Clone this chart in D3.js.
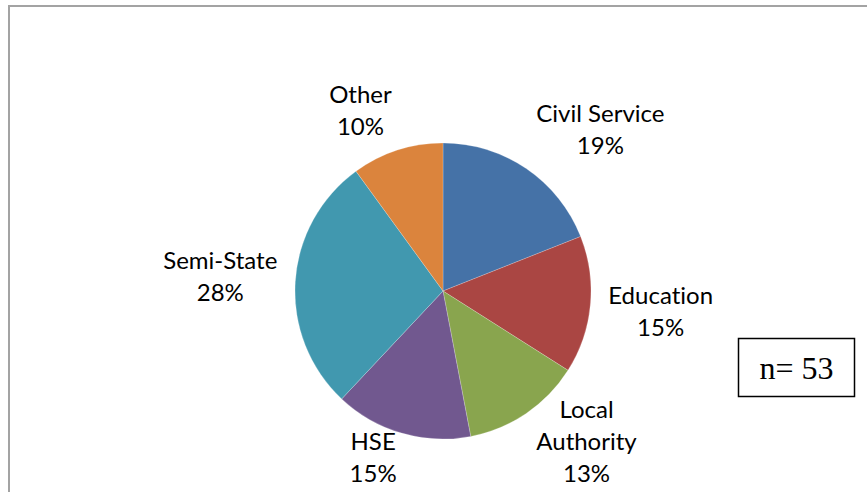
<!DOCTYPE html>
<html>
<head>
<meta charset="utf-8">
<script src="https://cdn.jsdelivr.net/npm/d3@7"></script>
<style>
  html, body { margin: 0; padding: 0; background: #fff; }
  svg { display: block; }
  text { font-variant-ligatures: none; }
</style>
</head>
<body>
<svg id="chart" width="867" height="492"></svg>
<script>
// Respondents by employment sector (n = 53), shares in percent
const sectors  = ["Civil Service", "Education", "Local Authority", "HSE", "Semi-State", "Other"];
const percents = [19, 15, 13, 15, 28, 10];
const labelLines = [["Civil Service"], ["Education"], ["Local", "Authority"], ["HSE"], ["Semi-State"], ["Other"]];
const sampleLabel = "n= 53";

const colors = ["#4572A7", "#AA4643", "#89A54E", "#71588F", "#4198AF", "#DB843D"];

const W = 867, H = 492;
const cx = 443, cy = 291, radius = 148;
const lineH = 32, firstBase = 24, maxBaseline = 482;

const svg = d3.select("#chart");

// chart frame (extends beyond the right and bottom edges)
svg.append("path")
  .attr("d", `M9,${H + 5} L9,6 L${W + 5},6`)
  .attr("fill", "none")
  .attr("stroke", "#a3a3a3")
  .attr("stroke-width", 2);

const data = sectors.map((s, i) => ({ name: s, value: percents[i], lines: labelLines[i], color: colors[i] }));

const pie = d3.pie().sort(null).value(d => d.value).startAngle(0).endAngle(2 * Math.PI);
const arc = d3.arc().innerRadius(0).outerRadius(radius);
const arcs = pie(data);

const g = svg.append("g").attr("transform", `translate(${cx},${cy})`);
g.selectAll("path.slice")
  .data(arcs)
  .join("path")
  .attr("class", "slice")
  .attr("d", arc)
  .attr("fill", d => d.data.color)
  .attr("stroke", "#ffffff")
  .attr("stroke-opacity", 0.35)
  .attr("stroke-width", 0.6);

// data labels: name + percentage, placed just outside each slice
const labelG = svg.append("g")
  .attr("font-family", "Lato, 'Open Sans', sans-serif")
  .attr("font-size", 24)
  .attr("fill", "#000");

const clamp = v => Math.max(-1, Math.min(1, v));

arcs.forEach(a => {
  const mid = (a.startAngle + a.endAngle) / 2;
  const s = Math.sin(mid), c = Math.cos(mid);
  const lines = a.data.lines.concat([a.data.value + "%"]);

  const t = labelG.append("text").attr("text-anchor", "middle");
  lines.forEach(ln => t.append("tspan").text(ln));

  // block size
  let w = 0;
  t.selectAll("tspan").each(function () { w = Math.max(w, this.getComputedTextLength()); });
  const h = lines.length * lineH;

  // anchor point on a slightly stretched ring around the pie
  const px = cx + (radius + 18) * s;
  const py = cy - (radius + 8) * c;
  const bx = px + (w / 2) * clamp(s * 4);
  const by = py + (h / 2) * clamp(-c * 2);

  let top = by - h / 2;
  const lastBase = top + firstBase + lineH * (lines.length - 1);
  if (lastBase > maxBaseline) top -= lastBase - maxBaseline;

  t.selectAll("tspan")
    .attr("x", bx)
    .attr("y", (d, i) => top + firstBase + i * lineH);
});

// sample-size box
const boxG = svg.append("g");
boxG.append("rect")
  .attr("x", 738.5).attr("y", 338.5)
  .attr("width", 116).attr("height", 58)
  .attr("fill", "#fff")
  .attr("stroke", "#000")
  .attr("stroke-width", 1.5);
boxG.append("text")
  .attr("x", 796.5).attr("y", 378.5)
  .attr("text-anchor", "middle")
  .attr("font-family", "'Liberation Serif', 'Times New Roman', serif")
  .attr("font-size", 32)
  .attr("fill", "#000")
  .text(sampleLabel);
</script>
</body>
</html>
